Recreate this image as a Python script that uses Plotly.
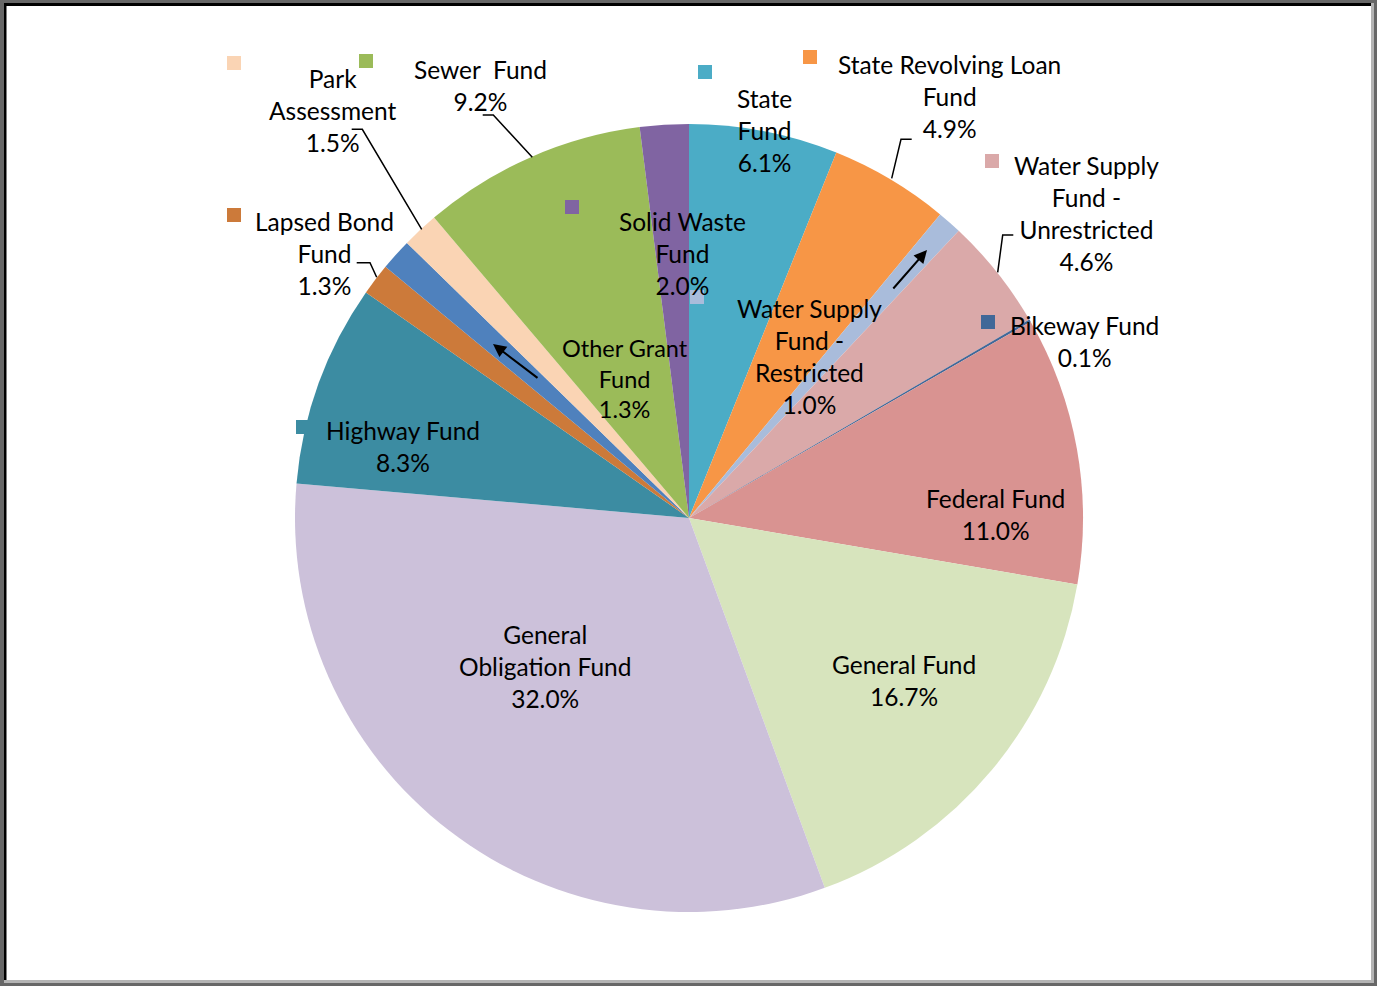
import plotly.graph_objects as go

W, H = 1377, 986

# ---- data ----
labels = ["State Fund", "State Revolving Loan Fund", "Water Supply Fund - Restricted",
          "Water Supply Fund - Unrestricted", "Bikeway Fund", "Federal Fund", "General Fund",
          "General Obligation Fund", "Highway Fund", "Lapsed Bond Fund", "Other Grant Fund",
          "Park Assessment", "Sewer Fund", "Solid Waste Fund"]
values = [6.1, 4.9, 1.0, 4.6, 0.1, 11.0, 16.7, 32.0, 8.3, 1.3, 1.3, 1.5, 9.2, 2.0]
colors = ["#4BACC6", "#F79646", "#A9BCDB", "#DAA9A9", "#416898", "#D99391", "#D7E4BD",
          "#CCC1DA", "#3C8CA2", "#CC7A3A", "#4F81BD", "#FAD4B4", "#9BBB59", "#8064A2"]
label_lines = ["State<br>Fund", "State Revolving Loan<br>Fund", "Water Supply<br>Fund -<br>Restricted",
               "Water Supply<br>Fund -<br>Unrestricted", "Bikeway Fund", "Federal Fund", "General Fund",
               "General<br>Obligation Fund", "Highway Fund", "Lapsed Bond<br>Fund", "Other Grant<br>Fund",
               "Park<br>Assessment", "Sewer  Fund", "Solid Waste<br>Fund"]

# ---- layout helpers (pixel -> paper) ----
def px(x):
    return x / W

def py(y):
    return 1 - y / H

cx, cy, r = 689, 518, 394

# label block centres (pixels)
label_pos = [(764, 130), (949, 96), (809, 357), (1086, 213), (1084, 341), (996, 514),
             (904, 680), (545, 666), (403, 447), (324, 253), (625, 378), (333, 110),
             (481, 86), (682, 253)]
font_sizes = [24.5] * len(labels)
font_sizes[10] = 23.5  # Other Grant Fund uses tighter spacing
# legend-key squares (pixels), None = not shown
key_pos = [(705, 72), (810, 57), (697, 297), (992, 161), (988, 322), None, None, None,
           (303, 427), (234, 215), None, (234, 63), (366, 61), (572, 207)]

fig = go.Figure(go.Pie(
    labels=labels, values=values, sort=False, direction="clockwise", rotation=0,
    marker=dict(colors=colors, line=dict(width=0)),
    textinfo="none", hoverinfo="label+percent",
    domain=dict(x=[px(cx - r), px(cx + r)], y=[py(cy + r), py(cy - r)]),
    showlegend=False,
))

shapes = []
# frame
shapes.append(dict(type="rect", xref="paper", yref="paper", x0=px(4), x1=px(1374), y0=py(983), y1=py(3),
                   fillcolor="#B4B4B4", line=dict(width=0), layer="below"))
shapes.append(dict(type="rect", xref="paper", yref="paper", x0=px(4), x1=px(1371), y0=py(980), y1=py(3),
                   fillcolor="#000000", line=dict(width=0), layer="below"))
shapes.append(dict(type="rect", xref="paper", yref="paper", x0=px(6.5), x1=px(1371), y0=py(980), y1=py(6),
                   fillcolor="#FFFFFF", line=dict(width=0), layer="below"))

# legend keys
for kp, col in zip(key_pos, colors):
    if kp is None:
        continue
    kx, ky = kp
    shapes.append(dict(type="rect", xref="paper", yref="paper",
                       x0=px(kx - 7), x1=px(kx + 7), y0=py(ky + 7), y1=py(ky - 7),
                       fillcolor=col, line=dict(width=0), layer="above"))

# leader lines
leaders = [
    [(351.7, 129.3), (362.3, 129.3), (421.7, 229.3)],   # Park
    [(482.7, 115), (493.3, 115), (532.3, 157.3)],       # Sewer
    [(356.7, 262.7), (370, 262.7), (376.7, 277.3)],     # Lapsed Bond
    [(911.7, 139.3), (901, 139.3), (891.7, 178.3)],     # SRLF
    [(1013.3, 235), (1002.7, 235), (997.7, 272.3)],     # WS Unrestricted
]
for pts in leaders:
    path = "M " + " L ".join(f"{px(x)},{py(y)}" for x, y in pts)
    shapes.append(dict(type="path", xref="paper", yref="paper", path=path,
                       line=dict(color="black", width=1.5), layer="above"))

annotations = []
for txt, v, (lx, ly), fs in zip(label_lines, values, label_pos, font_sizes):
    annotations.append(dict(x=px(lx), y=py(ly), xref="paper", yref="paper",
                            text=f"{txt}<br>{v:.1f}%", showarrow=False,
                            xanchor="center", yanchor="middle", align="center",
                            font=dict(family="Lato", size=fs, color="black")))

# arrows (head, tail)
arrows = [((927, 250), (892, 290)), ((493, 344), (539, 379))]
for (hx, hy), (tx, ty) in arrows:
    annotations.append(dict(x=px(hx), y=py(hy), xref="paper", yref="paper", text="",
                            showarrow=True, ax=tx - hx, ay=ty - hy, arrowhead=2,
                            arrowsize=1.3, arrowwidth=2, arrowcolor="black", standoff=0))

fig.update_layout(width=W, height=H, margin=dict(l=0, r=0, t=0, b=0),
                  paper_bgcolor="#676767", plot_bgcolor="white",
                  shapes=shapes, annotations=annotations)

fig.write_html("out.html", config={"displayModeBar": False},
               post_script="document.body.style.margin='0';document.body.style.overflow='hidden';")
